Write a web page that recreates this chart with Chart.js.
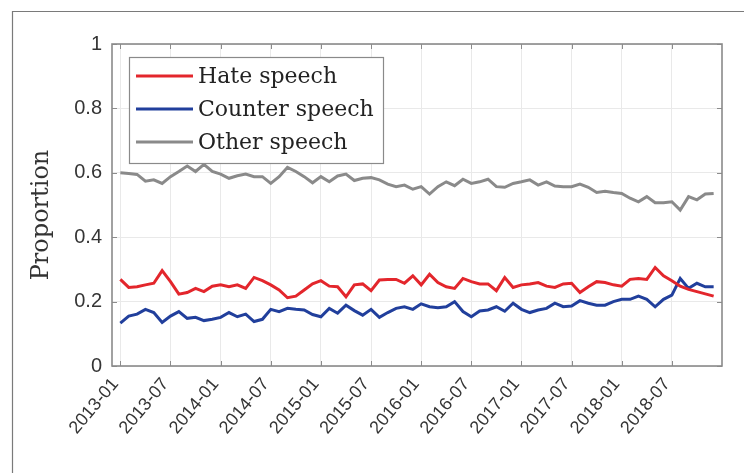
<!DOCTYPE html>
<html>
<head>
<meta charset="utf-8">
<script src="https://cdn.jsdelivr.net/npm/chart.js@4.4.1/dist/chart.umd.min.js"></script>
<style>
  html, body { margin: 0; padding: 0; background: #ffffff; }
  #wrap { position: relative; width: 744px; height: 473px; }
  canvas { display: block; }
</style>
</head>
<body>
<div id="wrap"><canvas id="c" width="744" height="473"></canvas></div>
<script>
// Monthly share of each speech type, 2013-01 .. 2018-12 (index 0 = 2013-01)
const hateSpeech = [
  0.269, 0.244, 0.246, 0.252, 0.257, 0.296, 0.262, 0.223, 0.228, 0.241, 0.231, 0.248,
  0.252, 0.246, 0.252, 0.241, 0.275, 0.265, 0.252, 0.236, 0.212, 0.217, 0.236, 0.255,
  0.265, 0.248, 0.246, 0.215, 0.252, 0.255, 0.234, 0.267, 0.269, 0.269, 0.257, 0.280,
  0.252, 0.285, 0.259, 0.246, 0.241, 0.272, 0.262, 0.255, 0.255, 0.234, 0.275, 0.244,
  0.252, 0.255, 0.259, 0.248, 0.244, 0.255, 0.257, 0.228, 0.246, 0.262, 0.259, 0.252,
  0.248, 0.269, 0.272, 0.269, 0.306, 0.280, 0.265, 0.248, 0.238, 0.231, 0.224, 0.217
];

const counterSpeech = [
  0.133, 0.155, 0.161, 0.176, 0.166, 0.135, 0.155, 0.169, 0.148, 0.151, 0.141, 0.145,
  0.151, 0.166, 0.153, 0.161, 0.138, 0.145, 0.176, 0.169, 0.179, 0.176, 0.174, 0.160,
  0.153, 0.179, 0.164, 0.189, 0.172, 0.158, 0.176, 0.151, 0.166, 0.179, 0.184, 0.176,
  0.193, 0.184, 0.181, 0.184, 0.200, 0.169, 0.153, 0.171, 0.174, 0.184, 0.170, 0.195,
  0.176, 0.166, 0.174, 0.179, 0.195, 0.184, 0.186, 0.203, 0.195, 0.189, 0.189, 0.200,
  0.207, 0.207, 0.217, 0.207, 0.184, 0.207, 0.220, 0.272, 0.241, 0.257, 0.246, 0.246
];

const otherSpeech = [
  0.600, 0.598, 0.595, 0.574, 0.578, 0.567, 0.588, 0.604, 0.621, 0.604, 0.626, 0.604,
  0.596, 0.583, 0.591, 0.596, 0.588, 0.588, 0.567, 0.588, 0.617, 0.604, 0.588, 0.569,
  0.588, 0.572, 0.590, 0.596, 0.576, 0.583, 0.585, 0.578, 0.565, 0.557, 0.562, 0.549,
  0.557, 0.534, 0.557, 0.572, 0.560, 0.580, 0.567, 0.572, 0.580, 0.557, 0.555, 0.567,
  0.572, 0.578, 0.562, 0.572, 0.559, 0.557, 0.557, 0.565, 0.555, 0.539, 0.543, 0.539,
  0.536, 0.521, 0.510, 0.526, 0.507, 0.507, 0.510, 0.484, 0.526, 0.516, 0.534, 0.536
];

// Labelled x ticks (every six months; x value = months since 2013-01)
const xTickIndex = [0, 6, 12, 18, 24, 30, 36, 42, 48, 54, 60, 66];
const xTickLabels = ['2013-01', '2013-07', '2014-01', '2014-07', '2015-01', '2015-07',
                     '2016-01', '2016-07', '2017-01', '2017-07', '2018-01', '2018-07'];

// y ticks
const yTickValues = [0, 0.2, 0.4, 0.6, 0.8, 1];
const yTickLabels = ['0', '0.2', '0.4', '0.6', '0.8', '1'];

const seriesNames = ['Hate speech', 'Counter speech', 'Other speech'];
const seriesColors = ['#e3262c', '#213f9c', '#8a8a8a'];
const yTitle = 'Proportion';

const toPoints = arr => arr.map((v, i) => ({ x: i, y: v }));

// Outer figure frame, axes box with inward ticks, y title and the boxed legend
const framePlugin = {
  id: 'framePlugin',
  beforeDraw(chart) {
    const ctx = chart.ctx;
    ctx.save();
    ctx.strokeStyle = '#7a7a7a';
    ctx.lineWidth = 1.2;
    ctx.beginPath();
    ctx.moveTo(12.5, 480);
    ctx.lineTo(12.5, 11.5);
    ctx.lineTo(760, 11.5);
    ctx.stroke();

    // y-axis title, rotated
    const a = chart.chartArea;
    ctx.translate(42, (a.top + a.bottom) / 2 + 10);
    ctx.rotate(-Math.PI / 2);
    ctx.fillStyle = '#333333';
    ctx.font = '24px "DejaVu Serif", serif';
    ctx.textAlign = 'center';
    ctx.textBaseline = 'middle';
    ctx.fillText(yTitle, 0, 0);
    ctx.restore();
  },
  afterDatasetsDraw(chart) {
    const ctx = chart.ctx;
    const a = chart.chartArea;
    const xs = chart.scales.x, ys = chart.scales.y;
    ctx.save();
    ctx.strokeStyle = '#8c8c8c';
    ctx.lineWidth = 1;
    const tl = 5;
    ctx.beginPath();
    xTickIndex.forEach(i => {
      const px = Math.round(xs.getPixelForValue(i)) + 0.5;
      ctx.moveTo(px, a.bottom); ctx.lineTo(px, a.bottom - tl);
      ctx.moveTo(px, a.top); ctx.lineTo(px, a.top + tl);
    });
    yTickValues.forEach(v => {
      const py = Math.round(ys.getPixelForValue(v)) + 0.5;
      ctx.moveTo(a.left, py); ctx.lineTo(a.left + tl, py);
      ctx.moveTo(a.right, py); ctx.lineTo(a.right - tl, py);
    });
    ctx.stroke();
    ctx.strokeStyle = '#8a8a8a';
    ctx.lineWidth = 1.6;
    ctx.strokeRect(a.left, a.top, a.right - a.left, a.bottom - a.top);

    // legend box
    const lx = a.left + 17, ly = a.top + 13, lw = 254, lh = 106;
    ctx.fillStyle = '#ffffff';
    ctx.fillRect(lx, ly, lw, lh);
    ctx.strokeStyle = '#8a8a8a';
    ctx.lineWidth = 1.2;
    ctx.strokeRect(lx + 0.5, ly + 0.5, lw, lh);
    ctx.font = '22px "DejaVu Serif", serif';
    ctx.textBaseline = 'middle';
    ctx.textAlign = 'left';
    chart.data.datasets.forEach((ds, k) => {
      const ry = ly + 19 + k * 33;
      ctx.strokeStyle = ds.borderColor;
      ctx.lineWidth = 3;
      ctx.beginPath();
      ctx.moveTo(lx + 7, ry);
      ctx.lineTo(lx + 64, ry);
      ctx.stroke();
      ctx.fillStyle = '#222222';
      ctx.fillText(ds.label, lx + 69, ry + 1);
    });
    ctx.restore();
  }
};

new Chart(document.getElementById('c'), {
  type: 'line',
  data: {
    datasets: [
      { label: seriesNames[0], data: toPoints(hateSpeech), borderColor: seriesColors[0] },
      { label: seriesNames[1], data: toPoints(counterSpeech), borderColor: seriesColors[1] },
      { label: seriesNames[2], data: toPoints(otherSpeech), borderColor: seriesColors[2] }
    ].map(d => Object.assign(d, { borderWidth: 3, pointRadius: 0, tension: 0, fill: false }))
  },
  options: {
    responsive: false,
    animation: false,
    layout: { padding: { left: 0, right: 22, top: 44, bottom: 0 } },
    plugins: { legend: { display: false }, tooltip: { enabled: false } },
    scales: {
      x: {
        type: 'linear',
        min: -1,
        max: 72,
        afterBuildTicks(scale) { scale.ticks = xTickIndex.map(v => ({ value: v })); },
        afterFit(scale) { scale.height = 107; },
        grid: { color: '#e9e9e9', lineWidth: 1, drawTicks: false },
        border: { display: false },
        ticks: {
          autoSkip: false,
          minRotation: 50,
          maxRotation: 50,
          padding: 8,
          labelOffset: -5,
          color: '#353535',
          font: { family: '"Liberation Sans", Arial, sans-serif', size: 18 },
          callback(value) {
            const k = xTickIndex.indexOf(value);
            return k >= 0 ? xTickLabels[k] : '';
          }
        }
      },
      y: {
        min: 0,
        max: 1,
        afterBuildTicks(scale) { scale.ticks = yTickValues.map(v => ({ value: v })); },
        afterFit(scale) { scale.width = 112; },
        grid: { color: '#e9e9e9', lineWidth: 1, drawTicks: false },
        border: { display: false },
        ticks: {
          padding: 10,
          color: '#353535',
          font: { family: '"Liberation Sans", Arial, sans-serif', size: 20 },
          callback(value) {
            const k = yTickValues.indexOf(value);
            return k >= 0 ? yTickLabels[k] : '';
          }
        }
      }
    }
  },
  plugins: [framePlugin]
});
</script>
</body>
</html>
